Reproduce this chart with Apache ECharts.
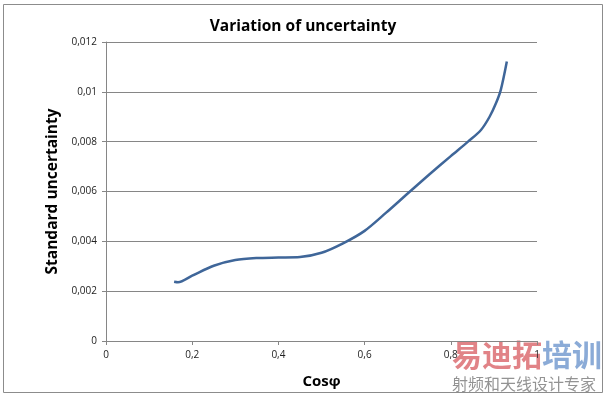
<!DOCTYPE html>
<html><head><meta charset="utf-8">
<script src="https://cdn.jsdelivr.net/npm/echarts@6/dist/echarts.min.js"></script>
<style>html,body{margin:0;padding:0;background:#fff}#c{width:606px;height:397px}</style>
</head><body><div id="c"></div>
<script>
var cosPhi = [0.158,0.167,0.2,0.25,0.3,0.35,0.4,0.45,0.5,0.55,0.6,0.65,0.7,0.75,0.8,0.84,0.87,0.89,0.905,0.916,0.93];
var uncertainty = [0.00238,0.00236,0.00262,0.00302,0.00325,0.00333,0.00335,0.00337,0.00354,0.00392,0.00442,0.00515,0.00592,0.00668,0.00742,0.00800,0.00847,0.00900,0.00955,0.01008,0.01122];
var titleText = "Variation of uncertainty";
var yName = "Standard uncertainty";
var xName = "Cosφ";
var data = cosPhi.map(function(x,i){return [x, uncertainty[i]];});
function fmt(v){ return String(+v.toFixed(4)).replace('.', ','); }
var chart = echarts.init(document.getElementById('c'), null, {renderer:'canvas'});
var F = "'Open Sans', 'DejaVu Sans', sans-serif";
chart.setOption({
  animation:false,
  backgroundColor:'#fff',
  title:{text:titleText,left:'center',top:14,textStyle:{fontFamily:F,fontSize:15.5,fontWeight:'bold',color:'#000'}},
  grid:{left:106,right:69,top:42,bottom:56},
  xAxis:{type:'value',min:0,max:1,interval:0.2,
    name:xName,nameLocation:'middle',nameGap:33,
    nameTextStyle:{fontFamily:F,fontSize:15,fontWeight:'bold',color:'#000'},
    axisLine:{show:true,lineStyle:{color:'#868686',width:1}},
    axisTick:{show:true,length:4,lineStyle:{color:'#868686'}},
    axisLabel:{formatter:fmt,fontFamily:F,fontSize:10,color:'#222',margin:9},
    splitLine:{show:false}},
  yAxis:{type:'value',min:0,max:0.012,interval:0.002,
    name:yName,nameLocation:'middle',nameGap:42,
    nameTextStyle:{fontFamily:F,fontSize:15.5,fontWeight:'bold',color:'#000'},
    axisLine:{show:true,lineStyle:{color:'#868686',width:1}},
    axisTick:{show:true,length:4,lineStyle:{color:'#868686'}},
    axisLabel:{formatter:fmt,fontFamily:F,fontSize:10,color:'#222',margin:9},
    splitLine:{show:true,lineStyle:{color:'#868686',width:1}}},
  series:[{type:'line',data:data,smooth:0.3,showSymbol:false,
    lineStyle:{color:'#3f6699',width:2.5}}],
  graphic:[
    {type:'rect',shape:{x:3.5,y:4.5,width:599,height:388},style:{fill:null,stroke:'#8c8c8c',lineWidth:1},silent:true},
    {type:'text',left:452,top:340,style:{text:'易迪拓',fontFamily:"'Noto Sans CJK SC'",fontSize:30,fontWeight:'bold',fill:'rgba(215,90,95,0.75)'},silent:true},
    {type:'text',left:542,top:340,style:{text:'培训',fontFamily:"'Noto Sans CJK SC'",fontSize:30,fontWeight:'bold',fill:'rgba(110,150,205,0.8)'},silent:true},
    {type:'text',left:452,top:376,style:{text:'射频和天线设计专家',fontFamily:"'Noto Sans CJK SC'",fontSize:16,fill:'rgba(120,120,120,0.8)'},silent:true}
  ]
});
</script></body></html>
